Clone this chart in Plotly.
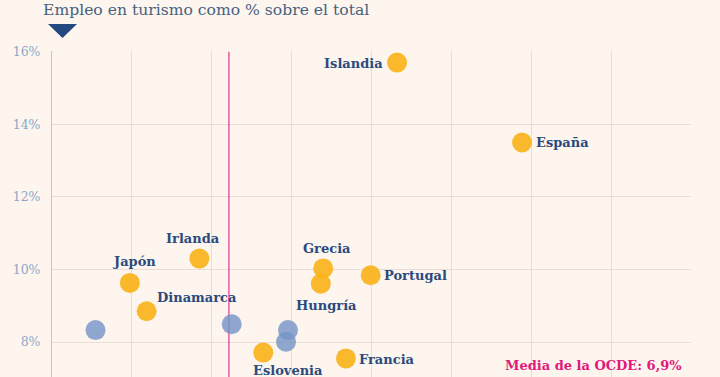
import plotly.graph_objects as go

# ---- data ----
countries = ["Islandia", "España", "Irlanda", "Japón", "Dinamarca", "Grecia",
             "Hungría", "Portugal", "Eslovenia", "Francia"]
gdp_share = [8.64, 11.77, 3.69, 1.95, 2.37, 6.79, 6.73, 7.98, 5.29, 7.36]
emp_share = [15.70, 13.50, 10.30, 9.63, 8.85, 10.03, 9.61, 9.84, 7.71, 7.55]

other_gdp = [1.09, 4.50, 5.91, 5.86]
other_emp = [8.33, 8.49, 8.33, 8.01]

oecd_gdp_mean = 4.43
oecd_emp_mean = 6.9
y_ticks = [8, 10, 12, 14, 16]
y_tick_labels = ["8%", "10%", "12%", "14%", "16%"]
x_ticks = [0, 2, 4, 6, 8, 10, 12, 14, 16]
title_text = "Empleo en turismo como % sobre el total"
mean_label = "Media de la OCDE: 6,9%"

# ---- styling ----
BG = "#FDF5EE"
GRID = "#E9DDD7"
ORANGE = "rgba(249,176,18,0.88)"
BLUE = "rgba(115,148,198,0.80)"
LABEL = "#2B4A7C"
PINK = "#E0197A"
FONT = "DejaVu Serif"

# label placement: (xanchor, xshift, yshift)
placement = {
    "Islandia": ("right", -12, -1),
    "España": ("left", 12, 0),
    "Irlanda": ("center", -6, 20),
    "Japón": ("center", 5, 21),
    "Dinamarca": ("left", 8, 14),
    "Grecia": ("center", 4, 20),
    "Hungría": ("center", 6, -22),
    "Portugal": ("left", 11, 0),
    "Eslovenia": ("center", 25, -18),
    "Francia": ("left", 11, -1),
}

fig = go.Figure()

# OECD mean lines
fig.add_trace(go.Scatter(x=[oecd_gdp_mean, oecd_gdp_mean], y=[0, 16], mode="lines",
                         line=dict(color="#E0439A", width=1.3), hoverinfo="skip",
                         showlegend=False))
fig.add_trace(go.Scatter(x=[0, 16], y=[oecd_emp_mean, oecd_emp_mean], mode="lines",
                         line=dict(color="#E0439A", width=1.3), hoverinfo="skip",
                         showlegend=False))

fig.add_trace(go.Scatter(x=other_gdp, y=other_emp, mode="markers",
                         marker=dict(size=20, color=BLUE, line=dict(width=0)),
                         showlegend=False))
fig.add_trace(go.Scatter(x=gdp_share, y=emp_share, mode="markers",
                         marker=dict(size=20, color=ORANGE, line=dict(width=0)),
                         showlegend=False))

for name, gx, ey in zip(countries, gdp_share, emp_share):
    xa, xs, ys = placement[name]
    fig.add_annotation(x=gx, y=ey, text=name, showarrow=False,
                       xanchor=xa, yanchor="middle", xshift=xs, yshift=ys,
                       font=dict(family=FONT, size=13, color=LABEL, weight="bold"))

# plot area: x 52..691 px, y 51..377 px
W, H = 720, 377
L, R, T, B = 52, 29, 51, 0
pw, ph = W - L - R, H - T - B

def px(x):
    return (x - L) / pw

def py(y):
    return (H - B - y) / ph

fig.add_annotation(xref="paper", yref="paper", x=px(41), y=py(10), text=title_text,
                   showarrow=False, xanchor="left", yanchor="middle",
                   font=dict(family=FONT, size=15.6, color="#46607F"))
fig.add_annotation(xref="paper", yref="paper", x=px(684), y=py(365), text=mean_label,
                   showarrow=False, xanchor="right", yanchor="middle",
                   font=dict(family=FONT, size=13, color=PINK, weight="bold"))

fig.add_shape(type="path", xref="paper", yref="paper",
              path=f"M {px(48)},{py(24)} L {px(77)},{py(24)} L {px(62.5)},{py(38)} Z",
              fillcolor="#24497F", line=dict(width=0))

y_bottom = 16 - (H - 51) / ((342 - 51) / 8)
fig.update_layout(
    width=W, height=H,
    margin=dict(l=L, r=R, t=T, b=B, pad=0),
    paper_bgcolor=BG, plot_bgcolor=BG,
    xaxis=dict(range=[0, 16], tickvals=x_ticks, showticklabels=False,
               showgrid=True, gridcolor=GRID, gridwidth=1, zeroline=False,
               showline=False, fixedrange=True),
    yaxis=dict(range=[y_bottom, 16.02], tickvals=y_ticks, ticktext=y_tick_labels,
               showgrid=True, gridcolor=GRID, gridwidth=1, zeroline=False,
               showline=True, linecolor="#C9C3C1", linewidth=1, ticks="",
               ticklabelstandoff=8,
               tickfont=dict(family=FONT, size=12.5, color="#8FA6C6"), fixedrange=True),
)

fig.write_html(
    "out.html",
    config={"displayModeBar": False},
    post_script=(
        "document.body.style.margin='0';"
        "document.body.style.padding='0';"
        "document.body.style.overflow='hidden';"
        f"document.body.style.background='{BG}';"
        "document.documentElement.style.background='" + BG + "';"
    ),
)
